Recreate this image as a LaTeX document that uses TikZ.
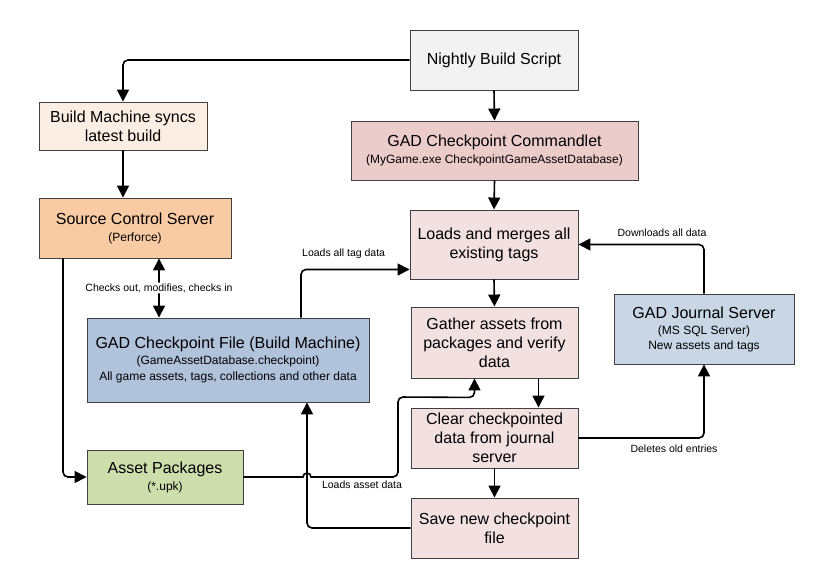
\documentclass[tikz,border=0pt]{standalone}
\usepackage{fontspec}
\setmainfont{Liberation Sans}
\usetikzlibrary{arrows.meta}
\definecolor{nightlyc}{RGB}{242,242,242}
\definecolor{syncc}{RGB}{253,238,227}
\definecolor{scsc}{RGB}{249,203,164}
\definecolor{cmdc}{RGB}{235,204,203}
\definecolor{stepc}{RGB}{243,225,225}
\definecolor{filec}{RGB}{176,195,219}
\definecolor{journalc}{RGB}{200,214,230}
\definecolor{pkgc}{RGB}{205,221,172}
\newcommand{\subt}[1]{{\fontsize{12}{16}\selectfont #1}}
\begin{document}
\begin{tikzpicture}[x=1pt,y=-1pt,
box/.style={draw=black!75,line width=0.9pt,align=center,inner sep=0pt,font=\fontsize{16}{19}\selectfont},
arr/.style={-{Triangle[width=12pt,length=12pt]},line width=1.6pt,rounded corners=5pt},
lbl/.style={font=\fontsize{10.5}{12}\selectfont,inner sep=1pt}]
\useasboundingbox(0,0)rectangle(833,586);
\node[box,fill=nightlyc,minimum width=168pt,minimum height=60pt](nightly)at(494,60){Nightly Build Script};
\node[box,fill=syncc,minimum width=168pt,minimum height=48pt](sync)at(123,126){Build Machine syncs\\latest build};
\node[box,fill=scsc,minimum width=192pt,minimum height=60pt](scs)at(135,228){Source Control Server\\[-2pt]\subt{(Perforce)}};
\node[box,fill=cmdc,minimum width=287pt,minimum height=59pt](cmdlet)at(494.5,150.5){GAD Checkpoint Commandlet\\[-2pt]\subt{(MyGame.exe CheckpointGameAssetDatabase)}};
\node[box,fill=stepc,minimum width=168pt,minimum height=69pt](merge)at(494,244.5){Loads and merges all\\existing tags};
\node[box,fill=stepc,minimum width=167pt,minimum height=71pt](gather)at(494.5,342.5){Gather assets from\\packages and verify\\data};
\node[box,fill=stepc,minimum width=167pt,minimum height=60pt](clear)at(494.5,438){Clear checkpointed\\data from journal\\server};
\node[box,fill=stepc,minimum width=167pt,minimum height=60pt](save)at(494.5,528){Save new checkpoint\\file};
\node[box,fill=journalc,minimum width=180pt,minimum height=70pt](journal)at(704,329){GAD Journal Server\\[-3pt]\subt{(MS SQL Server)}\\[-4pt]\subt{New assets and tags}};
\node[box,fill=filec,minimum width=282pt,minimum height=84pt](cpfile)at(228,360){GAD Checkpoint File (Build Machine)\\[-3pt]\subt{(GameAssetDatabase.checkpoint)}\\[-3pt]\subt{All game assets, tags, collections and other data}};
\node[box,fill=pkgc,minimum width=156pt,minimum height=54pt](pkgs)at(165,477){Asset Packages\\[-2pt]\subt{(*.upk)}};
\coordinate(hop)at(307,477);
\draw[arr](nightly.west)-|(sync.north);
\draw[arr](nightly.south)--(cmdlet.north);
\draw[arr](sync.south)--(sync.south|-scs.north);
\draw[arr](cmdlet.south)--(merge.north);
\draw[arr,{Triangle[width=12pt,length=12pt]}-{Triangle[width=12pt,length=12pt]}]([xshift=24pt]scs.south)--([xshift=24pt]scs.south|-cpfile.north)node[lbl,fill=white,midway]{Checks out, modifies, checks in};
\draw[arr]([xshift=-72pt]scs.south)|-(pkgs.west);
\draw[arr]([xshift=73pt]cpfile.north)|-([yshift=-25pt]merge.west);
\draw[arr](merge.south)--(gather.north);
\draw[arr](journal.north)|-(merge.east);
\draw[arr,sharp corners](pkgs.east)--([xshift=-4pt]hop)arc[start angle=180,end angle=0,radius=4pt]--(380,477)[rounded corners=5pt]--(398,477)--(398,397)--([xshift=-20pt,yshift=-19pt]gather.south)--([xshift=-20pt]gather.south);
\draw[arr]([xshift=44pt]gather.south)--([xshift=44pt]clear.north);
\draw[arr](clear.east)-|(journal.south);
\draw[arr](clear.south)--(save.north);
\draw[arr](save.west)-|([xshift=79pt]cpfile.south);
\node[lbl,anchor=west](ltag)at(301,254){Loads all tag data};
\node[lbl](ldown)at(662,233){Downloads all data};
\node[lbl](lasset)at(362,485){Loads asset data};
\node[lbl](ldel)at(674,449){Deletes old entries};
\end{tikzpicture}
\end{document}
